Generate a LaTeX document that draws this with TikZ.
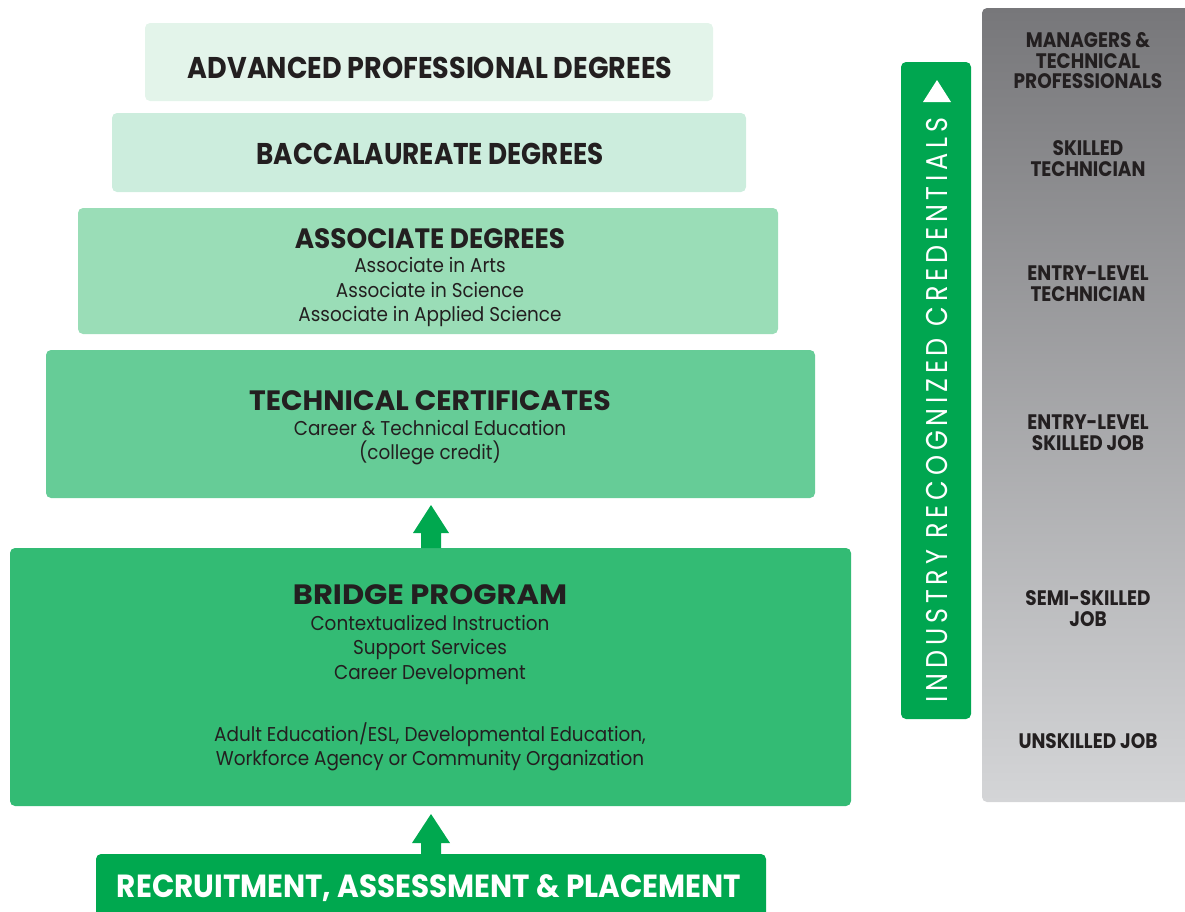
\documentclass[tikz,border=0pt]{standalone}
\usepackage{fontspec}
\setmainfont{Poppins}
\newfontfamily\hdA[FakeStretch=0.90]{Poppins}
\newfontfamily\hdB[FakeStretch=0.875]{Poppins}
\newfontfamily\hdR[FakeStretch=0.92]{Poppins}
\newfontfamily\hdS[FakeStretch=0.94]{Poppins}
\newfontfamily\hdT[FakeStretch=1.01]{Poppins}
\newfontfamily\hdU[FakeStretch=1.09]{Poppins}
\newfontfamily\bdfont[FakeStretch=0.92]{Poppins}
\newfontfamily\jbfont[FakeStretch=0.88]{Poppins}
\newfontfamily\vtfont[FakeStretch=0.85,LetterSpace=16]{Poppins}
\usetikzlibrary{calc}
\definecolor{ink}{HTML}{231F20}
\definecolor{cA}{HTML}{E3F4EA}
\definecolor{cB}{HTML}{CCEDDD}
\definecolor{cC}{HTML}{9ADDB7}
\definecolor{cD}{HTML}{66CC97}
\definecolor{cE}{HTML}{33BB74}
\definecolor{cF}{HTML}{00A84F}
\definecolor{barg}{HTML}{00A650}
\definecolor{grayT}{HTML}{77777A}
\definecolor{grayB}{HTML}{D4D5D7}
\tikzset{
  tier/.style={inner sep=0pt, outer sep=0pt, rounded corners=5pt, anchor=north west},
  head/.style={text=ink, inner sep=0pt, anchor=base},
  body/.style={font=\bdfont\fontsize{20}{24}\selectfont, text=ink, inner sep=0pt, anchor=base},
  job/.style={font=\jbfont\bfseries\fontsize{21}{21}\selectfont, text=ink, inner sep=0pt, anchor=base},
  fatarrow/.style={fill=cF},
}
\begin{document}
\begin{tikzpicture}[x=1pt,y=-1pt]
\useasboundingbox (0,0) rectangle (1185,911);
\clip (0,0) rectangle (1185,911);
% tiers
\node[tier, fill=cA, minimum width=568, minimum height=78] (adv) at (145,23) {};
\node[tier, fill=cB, minimum width=634, minimum height=79] (bac) at (112,113) {};
\node[tier, fill=cC, minimum width=700, minimum height=126] (aso) at (78,208) {};
\node[tier, fill=cD, minimum width=769, minimum height=148] (tec) at (46,350) {};
\node[tier, fill=cE, minimum width=841, minimum height=258] (bri) at (10,548) {};
\node[tier, fill=cF, minimum width=670, minimum height=80] (rec) at (96,854) {};
% texts
\node[head, font=\hdA\bfseries\fontsize{30}{32}\selectfont] (advT) at (430,78) {ADVANCED PROFESSIONAL DEGREES};
\node[head, font=\hdB\bfseries\fontsize{30}{32}\selectfont] (bacT) at (430,164) {BACCALAUREATE DEGREES};
\node[head, font=\hdS\bfseries\fontsize{28}{30}\selectfont] (asoT) at (430,248) {ASSOCIATE DEGREES};
\node[body] (aso1) at (430,272) {Associate in Arts};
\node[body] (aso2) at (430,297) {Associate in Science};
\node[body] (aso3) at (430,321) {Associate in Applied Science};
\node[head, font=\hdT\bfseries\fontsize{28}{30}\selectfont] (tecT) at (430,410) {TECHNICAL CERTIFICATES};
\node[body] (tec1) at (430,435) {Career \& Technical Education};
\node[body] (tec2) at (430,459) {(college credit)};
\node[head, font=\hdU\bfseries\fontsize{28}{30}\selectfont] (briT) at (430,604) {BRIDGE PROGRAM};
\node[body] (bri1) at (430,630) {Contextualized Instruction};
\node[body] (bri2) at (430,654) {Support Services};
\node[body] (bri3) at (430,679) {Career Development};
\node[body] (bri4) at (430,741) {Adult Education/ESL, Developmental Education,};
\node[body] (bri5) at (430,765) {Workforce Agency or Community Organization};
\node[head, text=white, font=\hdR\bfseries\fontsize{32}{34}\selectfont] (recT) at (429,897) {RECRUITMENT, ASSESSMENT \& PLACEMENT};
% arrows
\coordinate (a1) at ($(bri.north)+(0.5,0)$);
\fill[fatarrow] ($(a1)+(-10,0)$) -- ++(0,-15) -- ++(-8,0) -- ($(a1)+(0,-43)$) -- ($(a1)+(18,-15)$) -- ++(-8,0) -- ($(a1)+(10,0)$) -- cycle;
\coordinate (a2) at (rec.north);
\fill[fatarrow] ($(a2)+(-10,0)$) -- ++(0,-11) -- ++(-9,0) -- ($(a2)+(0,-40)$) -- ($(a2)+(19,-11)$) -- ++(-9,0) -- ($(a2)+(10,0)$) -- cycle;
% credentials bar
\node[tier, fill=barg, minimum width=70, minimum height=657] (bar) at (901,62) {};
\node[font=\vtfont\fontsize{30}{30}\selectfont, text=white, rotate=90, inner sep=0pt] (barT) at (937,410) {INDUSTRY RECOGNIZED CREDENTIALS};
\fill[white] (923,102) -- (951,102) -- (937,80) -- cycle;
% jobs column
\node[tier, top color=grayT, bottom color=grayB, minimum width=220, minimum height=794] (jobs) at (982,8) {};
\node[job] (j1a) at (1088,47) {MANAGERS \&};
\node[job] (j1b) at (1088,68) {TECHNICAL};
\node[job] (j1c) at (1088,88) {PROFESSIONALS};
\node[job] (j2a) at (1088,155) {SKILLED};
\node[job] (j2b) at (1088,176) {TECHNICIAN};
\node[job] (j3a) at (1088,280) {ENTRY-LEVEL};
\node[job] (j3b) at (1088,301) {TECHNICIAN};
\node[job] (j4a) at (1088,429) {ENTRY-LEVEL};
\node[job] (j4b) at (1088,450) {SKILLED JOB};
\node[job] (j5a) at (1088,605) {SEMI-SKILLED};
\node[job] (j5b) at (1088,626) {JOB};
\node[job] (j6) at (1088,748) {UNSKILLED JOB};
\end{tikzpicture}
\end{document}
